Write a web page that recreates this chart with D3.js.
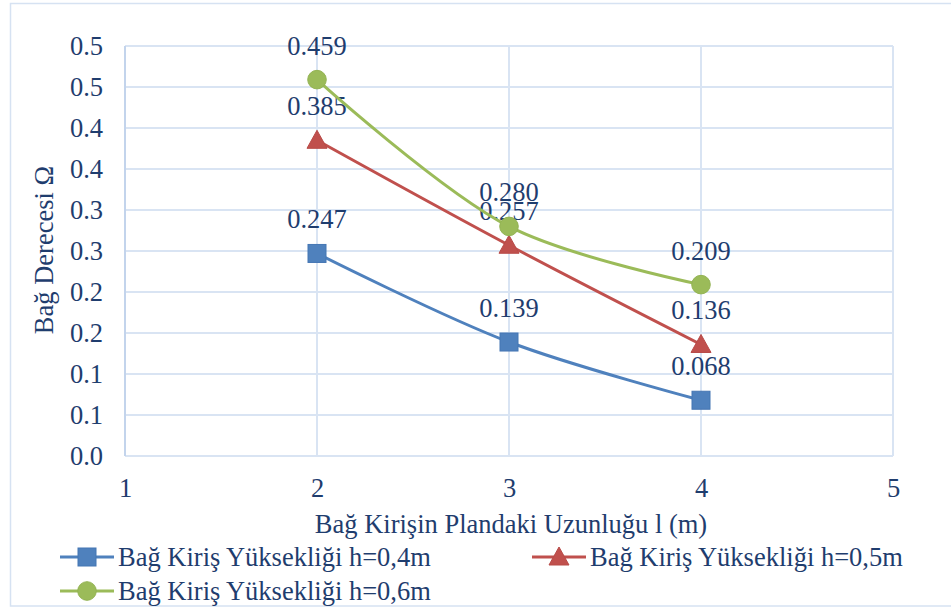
<!DOCTYPE html>
<html><head><meta charset="utf-8">
<script src="https://cdn.jsdelivr.net/npm/d3@7"></script>
<style>body{margin:0;background:#fff}</style>
</head><body><svg id="c" width="951" height="608"></svg>
<script>
const xValues = [2, 3, 4];
const seriesNames = ["Bağ Kiriş Yüksekliği h=0,4m", "Bağ Kiriş Yüksekliği h=0,5m", "Bağ Kiriş Yüksekliği h=0,6m"];
const h04 = [0.247, 0.139, 0.068];
const h05 = [0.385, 0.257, 0.136];
const h06 = [0.459, 0.280, 0.209];
const yTickValues = [0, 0.05, 0.1, 0.15, 0.2, 0.25, 0.3, 0.35, 0.4, 0.45, 0.5];
const yTickLabels = ["0.0", "0.1", "0.1", "0.2", "0.2", "0.3", "0.3", "0.4", "0.4", "0.5", "0.5"];
const xTickValues = [1, 2, 3, 4, 5];
const xTitle = "Bağ Kirişin Plandaki Uzunluğu l (m)";
const yTitle = "Bağ Derecesi Ω";

const colors = ["#4F81BD", "#C0504D", "#9BBB59"];
const shapes = ["square", "triangle", "circle"];
const series = [h04, h05, h06].map((v, i) => ({name: seriesNames[i], values: v, color: colors[i], shape: shapes[i]}));

const FF = "Liberation Serif";
const fs = 26.5;
const tc = "#1f3d6e";
const svg = d3.select("#c");
svg.append("rect").attr("x", 10.5).attr("y", 3.5).attr("width", 960).attr("height", 602.5)
  .attr("fill", "none").attr("stroke", "#d6e2f2").attr("stroke-width", 1.5);

const L = 125, R = 893, T = 46, B = 456;
const x = d3.scaleLinear().domain([1, 5]).range([L, R]);
const y = d3.scaleLinear().domain([0, 0.5]).range([B, T]);
const grid = "#d9e4f3";

svg.append("g").selectAll("line").data(yTickValues).join("line")
  .attr("x1", L).attr("x2", R).attr("y1", d => y(d)).attr("y2", d => y(d))
  .attr("stroke", grid).attr("stroke-width", 2);
svg.append("g").selectAll("line").data(xTickValues).join("line")
  .attr("y1", T).attr("y2", B).attr("x1", d => x(d)).attr("x2", d => x(d))
  .attr("stroke", d => d === 1 ? "#c3d4ec" : grid).attr("stroke-width", 2);

const yAxis = d3.axisLeft(y).tickValues(yTickValues).tickSize(0).tickPadding(22)
  .tickFormat((d, i) => yTickLabels[i]);
const gy = svg.append("g").attr("transform", `translate(${L},0)`).call(yAxis);
gy.select(".domain").remove();
gy.selectAll("text").attr("font-size", fs).attr("font-family", FF).attr("fill", tc);

const xAxis = d3.axisBottom(x).tickValues(xTickValues).tickSize(0).tickPadding(22).tickFormat(d3.format("d"));
const gx = svg.append("g").attr("transform", `translate(0,${B})`).call(xAxis);
gx.select(".domain").remove();
gx.selectAll("text").attr("font-size", fs).attr("font-family", FF).attr("fill", tc);

svg.append("text").attr("x", 511).attr("y", 533).attr("text-anchor", "middle")
  .attr("font-size", fs).attr("font-family", FF).attr("fill", tc).text(xTitle);
svg.append("text").attr("transform", "translate(53,250) rotate(-90)").attr("text-anchor", "middle")
  .attr("font-size", fs).attr("font-family", FF).attr("fill", tc).text(yTitle);

const line = d3.line().x((d, i) => x(xValues[i])).y(d => y(d)).curve(d3.curveCatmullRom.alpha(0.5));

function marker(g, shape, color, cx, cy) {
  if (shape === "square") {
    g.append("rect").attr("x", cx - 9).attr("y", cy - 9).attr("width", 18).attr("height", 18)
      .attr("fill", color).attr("stroke", "#4576b3").attr("stroke-width", 1);
  } else if (shape === "triangle") {
    g.append("path").attr("d", `M${cx},${cy - 10}L${cx + 10},${cy + 8}L${cx - 10},${cy + 8}Z`)
      .attr("fill", color).attr("stroke", "#b84a47").attr("stroke-width", 1);
  } else {
    g.append("circle").attr("cx", cx).attr("cy", cy).attr("r", 9.3)
      .attr("fill", color).attr("stroke", "#93b353").attr("stroke-width", 1);
  }
}

series.forEach(s => {
  const g = svg.append("g");
  g.append("path").attr("d", line(s.values)).attr("fill", "none").attr("stroke", s.color).attr("stroke-width", 3);
  s.values.forEach((v, i) => marker(g, s.shape, s.color, x(xValues[i]), y(v)));
  g.selectAll("text").data(s.values).join("text")
    .attr("x", (d, i) => x(xValues[i])).attr("y", d => y(d) - 25)
    .attr("text-anchor", "middle").attr("font-size", fs).attr("font-family", FF).attr("fill", tc)
    .text(d => d3.format(".3f")(d));
});

const legendPos = [[60, 557], [532, 557], [60, 591]];
series.forEach((s, i) => {
  const [lx, ly] = legendPos[i];
  const g = svg.append("g");
  g.append("line").attr("x1", lx).attr("x2", lx + 54).attr("y1", ly).attr("y2", ly).attr("stroke", s.color).attr("stroke-width", 3);
  marker(g, s.shape, s.color, lx + 27, ly);
  g.append("text").attr("x", lx + 58).attr("y", ly + 9).attr("font-size", fs).attr("font-family", FF).attr("fill", tc).text(s.name);
});
</script></body></html>
